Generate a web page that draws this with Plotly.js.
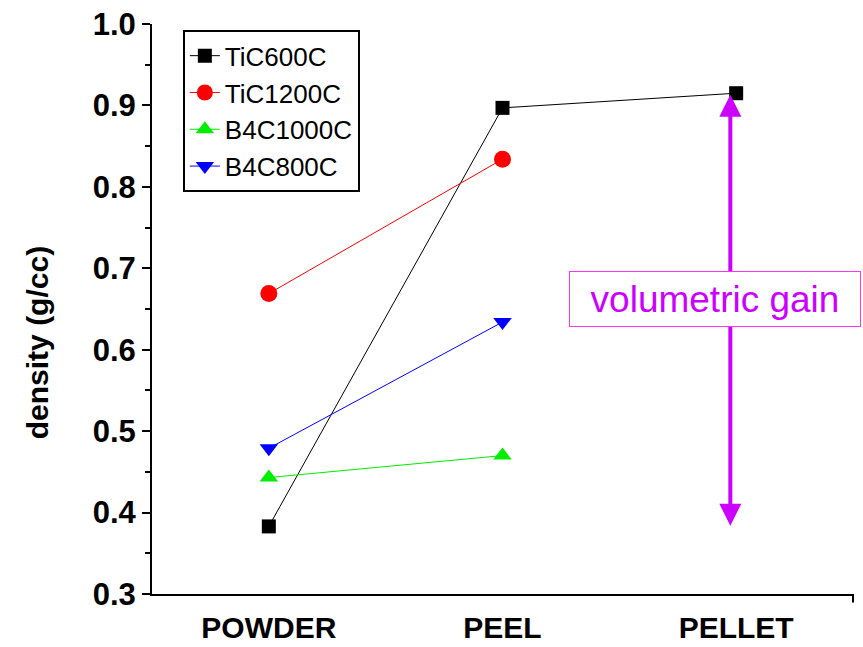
<!DOCTYPE html>
<html>
<head>
<meta charset="utf-8">
<script src="https://cdn.plot.ly/plotly-3.0.1.min.js"></script>
<style>html,body{margin:0;padding:0;background:#fff;}#chart{width:863px;height:647px;}</style>
</head>
<body>
<div id="chart"></div>
<script>
const stages = ["POWDER", "PEEL", "PELLET"];
const tic600 = [0.383, 0.897, 0.915];
const tic1200 = [0.669, 0.834];
const b4c1000 = [0.443, 0.470];
const b4c800 = [0.479, 0.634];
const gainLow = 0.382;
const gainHigh = 0.913;

const FONT = "Arial, 'Liberation Sans', sans-serif";

const traces = [
  {name: "TiC600C", x: stages, y: tic600, mode: "lines+markers",
   line: {color: "#000000", width: 1}, marker: {symbol: "square", size: 14, color: "#000000"}},
  {name: "TiC1200C", x: stages.slice(0, 2), y: tic1200, mode: "lines+markers",
   line: {color: "#ff0000", width: 1}, marker: {symbol: "circle", size: 17, color: "#ff0000"}},
  {name: "B4C1000C", x: stages.slice(0, 2), y: b4c1000, mode: "lines+markers",
   line: {color: "#00ee00", width: 1}, marker: {symbol: "triangle-up", size: 16, color: "#00ee00"}},
  {name: "B4C800C", x: stages.slice(0, 2), y: b4c800, mode: "lines+markers",
   line: {color: "#0000ff", width: 1}, marker: {symbol: "triangle-down", size: 16, color: "#0000ff"}}
];

const layout = {
  width: 863, height: 647,
  margin: {l: 152, r: 10, t: 24, b: 53},
  paper_bgcolor: "#ffffff", plot_bgcolor: "#ffffff",
  font: {family: FONT, color: "#000000"},
  showlegend: true,
  legend: {x: 0.044, y: 0.989, xanchor: "left", yanchor: "top",
           bordercolor: "#000000", borderwidth: 2, bgcolor: "#ffffff",
           entrywidth: 225, entrywidthmode: "pixels",
           font: {family: FONT, size: 26, color: "#000000"}},
  xaxis: {type: "category", range: [-0.5, 2.5], showgrid: false, zeroline: false,
          showline: true, linecolor: "#000000", linewidth: 2, ticks: "",
          ticklabelstandoff: 6,
          tickfont: {family: FONT, size: 30, color: "#000000", weight: "bold"}},
  yaxis: {range: [0.3, 1.0], dtick: 0.1, tickformat: ".1f", showgrid: false, zeroline: false,
          showline: true, linecolor: "#000000", linewidth: 2,
          ticks: "outside", ticklen: 8, tickwidth: 2, tickcolor: "#000000",
          minor: {dtick: 0.05, ticks: "outside", ticklen: 5, tickwidth: 2, tickcolor: "#000000"},
          tickfont: {family: FONT, size: 31, color: "#000000", weight: "bold"}},
  shapes: [
    {type: "line", xref: "paper", yref: "paper", x0: 1, x1: 1, y0: 0, y1: -0.015,
     line: {color: "#000000", width: 2}}
  ],
  annotations: [
    {x: -0.164, y: 0.44, xref: "paper", yref: "paper", text: "density (g/cc)", textangle: -90,
     showarrow: false, xanchor: "center", yanchor: "middle",
     font: {family: FONT, size: 30, color: "#000000", weight: "bold"}},
    {x: 1.975, y: gainHigh, xref: "x", yref: "y", ax: 1.975, ay: gainLow, axref: "x", ayref: "y",
     text: "", showarrow: true, arrowhead: 2, startarrowhead: 2, arrowside: "end+start",
     arrowsize: 1.1, startarrowsize: 1.1, arrowwidth: 4, arrowcolor: "#cc00ff"},
    {x: 1.909, y: 0.662, xref: "x", yref: "y", text: "volumetric gain", showarrow: false,
     width: 280, height: 44,
     font: {family: FONT, size: 37, color: "#cc00ff"}, bgcolor: "#ffffff",
     bordercolor: "#ff33ff", borderwidth: 1, borderpad: 5}
  ]
};

Plotly.newPlot("chart", traces, layout, {displayModeBar: false, staticPlot: true});
</script>
</body>
</html>
